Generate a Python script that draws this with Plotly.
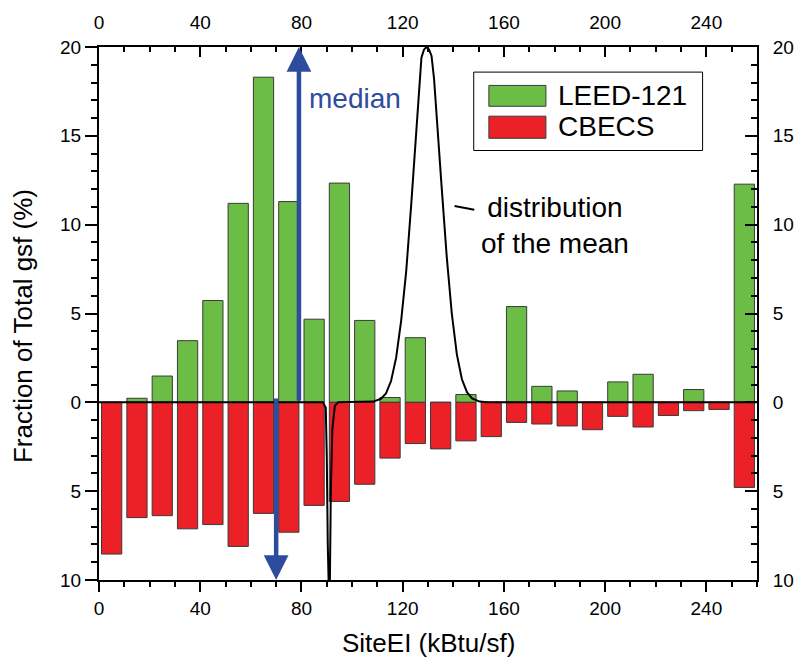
import plotly.graph_objects as go

# ---------------- data ----------------
bin_centers = [5, 15, 25, 35, 45, 55, 65, 75, 85, 95, 105, 115, 125,
               135, 145, 155, 165, 175, 185, 195, 205, 215, 225, 235, 245, 255]
leed_121 = [0, 0.23, 1.48, 3.47, 5.73, 11.2, 18.3, 11.3, 4.68, 12.34, 4.61, 0.27, 3.64,
            0, 0.44, 0, 5.39, 0.9, 0.64, 0, 1.15, 1.58, 0, 0.72, 0, 12.28]
cbecs = [-8.54, -6.49, -6.38, -7.12, -6.88, -8.11, -6.25, -7.31, -5.80, -5.58, -4.61, -3.14, -2.32,
         -2.62, -2.17, -1.93, -1.13, -1.22, -1.33, -1.54, -0.79, -1.39, -0.74, -0.47, -0.40, -4.79]

# "distribution of the mean" curve
curve_x = [0, 88.5, 89.6, 90.0, 90.4, 90.8, 91.2, 91.6, 92.2, 93.2, 94.5,
           105.4, 108.4, 111.4, 113.4, 115.4, 117.4, 119.4, 121.4, 123.4, 125.4, 126.4, 127.4, 128.4,
           129.4, 130.4, 131.4, 132.4, 133.4, 135.4, 137.4, 139.4, 141.4, 143.4, 145.4, 147.4, 150.4, 153.4, 260]
curve_y = [0, 0, -0.3, -3, -8, -10.5, -10.5, -5, -1.5, -0.2, 0,
           0, 0.04, 0.2, 0.5, 1.2, 2.5, 4.6, 7.4, 11.2, 15.6, 17.8, 19.4, 19.85,
           20, 19.85, 19.5, 18.2, 16.0, 12.1, 8.2, 5.0, 2.7, 1.3, 0.57, 0.22, 0.04, 0, 0]

median_leed = 79
median_cbecs = 70

x_ticks = [0, 40, 80, 120, 160, 200, 240]
y_ticks = [-10, -5, 0, 5, 10, 15, 20]
y_ticktext = ["10", "5", "0", "5", "10", "15", "20"]

series_names = ["LEED-121", "CBECS"]

# ---------------- style ----------------
GREEN = "#6CBD45"
RED = "#EC2027"
BLUE = "#2E4C9E"
FONT = "Liberation Sans, Arial, sans-serif"

fig = go.Figure()
fig.add_trace(go.Bar(x=bin_centers, y=leed_121, width=8, marker=dict(color=GREEN, line=dict(color="#3a3a3a", width=1)),
                     name=series_names[0], showlegend=False))
fig.add_trace(go.Bar(x=bin_centers, y=cbecs, width=8, marker=dict(color=RED, line=dict(color="#3a3a3a", width=1)),
                     name=series_names[1], showlegend=False))
fig.add_trace(go.Scatter(x=curve_x, y=curve_y, mode="lines", line=dict(color="black", width=2),
                         xaxis="x2", yaxis="y2", showlegend=False, hoverinfo="skip"))

axis_common = dict(showline=True, linewidth=2, linecolor="black", showgrid=False, zeroline=False,
                   tickfont=dict(family=FONT, size=19, color="black"), tickwidth=2, tickcolor="black")

fig.update_layout(
    width=806, height=660,
    margin=dict(l=99, r=42, t=43, b=80),
    paper_bgcolor="white", plot_bgcolor="white",
    barmode="overlay",
    font=dict(family=FONT, color="black"),
    xaxis=dict(range=[0, 260], tickvals=x_ticks, ticks="outside", ticklen=10,
               minor=dict(dtick=10, ticks="outside", ticklen=5, tickwidth=2, tickcolor="black"),
               **axis_common),
    xaxis2=dict(range=[0, 260], tickvals=x_ticks, ticks="inside", ticklen=10, overlaying="x", side="top",
                anchor="y", minor=dict(dtick=10, ticks="inside", ticklen=5, tickwidth=2, tickcolor="black"),
                ticklabelstandoff=8, **axis_common),
    yaxis=dict(range=[-10, 20], tickvals=y_ticks, ticktext=y_ticktext, ticks="outside", ticklen=12,
               minor=dict(dtick=1, ticks="outside", ticklen=6, tickwidth=2, tickcolor="black"),
               **axis_common),
    yaxis2=dict(range=[-10, 20], tickvals=y_ticks, ticktext=y_ticktext, ticks="inside", ticklen=12,
                overlaying="y", side="right", anchor="x",
                minor=dict(dtick=1, ticks="inside", ticklen=6, tickwidth=2, tickcolor="black"),
                ticklabelstandoff=10, **axis_common),
)

annotations = [
    # axis titles
    dict(text="SiteEI (kBtu/sf)", xref="paper", yref="paper", x=0.5, y=-0.119, xanchor="center", yanchor="middle",
         showarrow=False, font=dict(family=FONT, size=26, color="black")),
    dict(text="Fraction of Total gsf (%)", xref="paper", yref="paper", x=-0.1158, y=0.476, xanchor="center",
         yanchor="middle", textangle=-90, showarrow=False, font=dict(family=FONT, size=26, color="black")),
    # median arrows
    dict(x=median_leed, y=20, ax=median_leed, ay=0, xref="x", yref="y", axref="x", ayref="y", text="",
         showarrow=True, arrowhead=2, arrowsize=1.1, arrowwidth=4.5, arrowcolor=BLUE),
    dict(x=median_cbecs, y=-10, ax=median_cbecs, ay=0.3, xref="x", yref="y", axref="x", ayref="y", text="",
         showarrow=True, arrowhead=2, arrowsize=1.1, arrowwidth=4.5, arrowcolor=BLUE),
    dict(text="median", x=82.1, y=17.1, xref="x", yref="y", xanchor="left", yanchor="middle", showarrow=False,
         font=dict(family=FONT, size=28, color=BLUE)),
    # distribution of the mean label
    dict(text="distribution<br>of the mean", x=180.2, y=9.96, xref="x", yref="y", xanchor="center",
         yanchor="middle", showarrow=False, font=dict(family=FONT, size=28, color="black")),
    dict(x=140.5, y=11.05, ax=148.9, ay=10.83, xref="x", yref="y", axref="x", ayref="y", text="",
         showarrow=True, arrowhead=0, arrowwidth=2, arrowcolor="black"),
    # legend texts
    dict(text=series_names[0], xref="paper", yref="paper", x=0.6947, y=0.9082, xanchor="left", yanchor="middle",
         showarrow=False, font=dict(family=FONT, size=28, color="black")),
    dict(text=series_names[1], xref="paper", yref="paper", x=0.6947, y=0.8505, xanchor="left", yanchor="middle",
         showarrow=False, font=dict(family=FONT, size=28, color="black")),
]

shapes = [
    dict(type="rect", xref="paper", yref="paper", x0=0.5695, x1=0.9173, y0=0.8058, y1=0.9529,
         line=dict(color="black", width=1), fillcolor="white", layer="above"),
    dict(type="rect", xref="paper", yref="paper", x0=0.5925, x1=0.6792, y0=0.8888, y1=0.9279,
         line=dict(color="#3a3a3a", width=1), fillcolor=GREEN, layer="above"),
    dict(type="rect", xref="paper", yref="paper", x0=0.5925, x1=0.6792, y0=0.8287, y1=0.8702,
         line=dict(color="#3a3a3a", width=1), fillcolor=RED, layer="above"),
]

fig.update_layout(annotations=annotations, shapes=shapes)
fig.write_html("out.html", config={"displayModeBar": False},
               post_script="document.body.style.margin='0px';document.body.style.overflow='hidden';")
